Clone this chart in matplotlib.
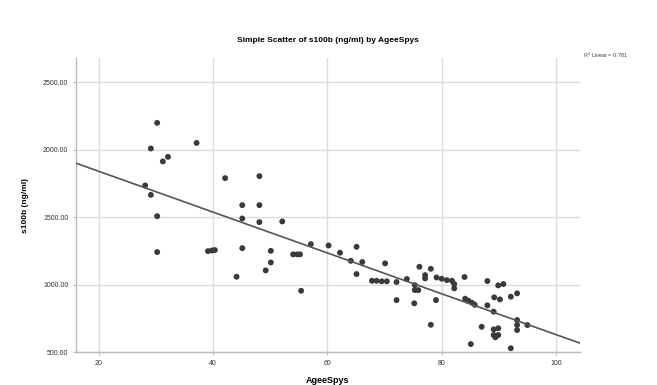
import numpy as np
import matplotlib
matplotlib.use("Agg")
import matplotlib.pyplot as plt

plt.rcParams['font.family'] = ['Liberation Sans', 'DejaVu Sans']

# values
age = [30.2, 29.1, 37.1, 31.2, 32.1, 42.1, 48.1, 28.1, 29.1, 45.1,
       48.1, 30.2, 45.1, 48.1, 52.1, 30.2, 39.1, 39.8, 40.3, 45.1,
       50.1, 54.0, 54.7, 55.2, 50.1, 49.2, 44.1, 57.1, 60.2, 55.4,
       62.2, 65.1, 64.1, 66.1, 65.1, 70.1, 67.8, 68.6, 69.5, 70.4,
       72.1, 73.9, 76.1, 78.1, 77.1, 77.1, 79.1, 80.0, 80.9, 81.8,
       82.2, 82.2, 75.3, 75.9, 75.3, 72.1, 75.2, 79.0, 78.1, 84.0,
       84.1, 84.7, 85.3, 85.8, 88.0, 88.0, 89.1, 89.9, 90.8, 89.2,
       90.2, 92.1, 93.2, 93.2, 93.2, 93.2, 95.0, 87.0, 89.1, 89.9,
       89.1, 89.9, 89.4, 85.1, 92.1]
s100b = [2199, 2009, 2050, 1913, 1947, 1789, 1804, 1735, 1665, 1589,
         1589, 1507, 1490, 1463, 1468, 1241, 1248, 1253, 1256, 1270,
         1250, 1224, 1224, 1224, 1164, 1105, 1058, 1300, 1290, 954,
         1236, 1280, 1176, 1167, 1078, 1157, 1028, 1028, 1024, 1024,
         1019, 1041, 1132, 1117, 1070, 1046, 1053, 1043, 1033, 1028,
         1004, 972, 996, 959, 959, 885, 861, 885, 702, 1056,
         895, 880, 865, 850, 1026, 846, 799, 994, 1004, 905,
         890, 910, 935, 737, 700, 663, 700, 687, 668, 676,
         626, 626, 609, 559, 528]

x_ticks = [20, 40, 60, 80, 100]
y_ticks = [500, 1000, 1500, 2000, 2500]
r2_text = "R$^2$ Linear = 0.781"

fig = plt.figure(figsize=(6.57, 3.85), dpi=100)
ax = fig.add_axes([0.1157, 0.0857, 0.767, 0.763])

ax.set_xlim(16, 104.2)
ax.set_ylim(500, 2678)

# grid
ax.set_xticks(x_ticks)
ax.set_yticks(y_ticks)
ax.grid(True, color='#dcdcdc', linewidth=1.0)
ax.set_axisbelow(True)

# scatter points
ax.scatter(age, s100b, s=18, color='#3a3a3a', edgecolors='none', zorder=3)

# linear fit line
slope, intercept = np.polyfit(age, s100b, 1)
xl = np.array(ax.get_xlim())
ax.plot(xl, slope * xl + intercept, color='#555555', linewidth=1.2, zorder=4)
ax.set_xlim(16, 104.2)

# spines
for side in ['top', 'right']:
    ax.spines[side].set_visible(False)
for side in ['left', 'bottom']:
    ax.spines[side].set_color('#bbbbbb')
    ax.spines[side].set_linewidth(1.0)

ax.set_yticklabels([f"{v:.2f}" for v in y_ticks])
ax.tick_params(axis='both', labelsize=5, length=2, color='#bbbbbb', labelcolor='#333333')

ax.set_title("Simple Scatter of s100b (ng/ml) by AgeeSpys", fontsize=6, fontweight='bold', pad=12)
ax.set_xlabel("AgeeSpys", fontsize=6.5, fontweight='bold', labelpad=7)
ax.set_ylabel("s100b (ng/ml)", fontsize=6, fontweight='bold', labelpad=10)

fig.text(0.887, 0.855, r2_text, fontsize=4, color='#444444', va='center')

fig.savefig("out.png", dpi=100)
